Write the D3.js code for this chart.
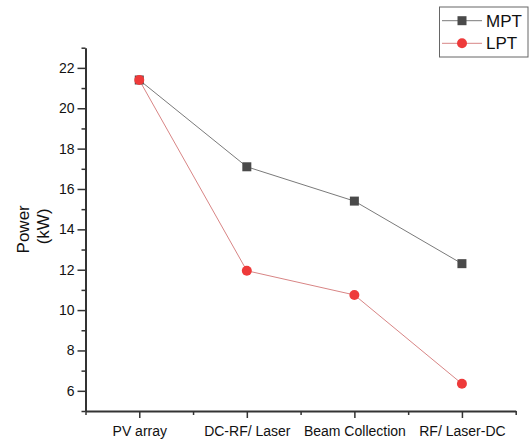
<!DOCTYPE html>
<html>
<head>
<meta charset="utf-8">
<script src="https://cdn.jsdelivr.net/npm/d3@7"></script>
<style>
  body { margin: 0; background: #fff; }
  svg { display: block; font-family: "Liberation Sans", Arial, sans-serif; }
</style>
</head>
<body>
<div id="chart"></div>
<script>
// Power at each conversion stage
const stages = ["PV array", "DC-RF/ Laser", "Beam Collection", "RF/ Laser-DC"];
const mptValues = [21.4, 17.1, 15.4, 12.3];
const lptValues = [21.4, 11.95, 10.75, 6.35];
const yTicks = [6, 8, 10, 12, 14, 16, 18, 20, 22];

const W = 529, H = 441;
const plot = { left: 85.5, right: 515.7, top: 47.7, bottom: 411 };

const svg = d3.select("#chart").append("svg")
    .attr("width", W)
    .attr("height", H);

const x = d3.scaleLinear().domain([0.5, stages.length + 0.5]).range([plot.left, plot.right]);
const y = d3.scaleLinear().domain([5, 23]).range([plot.bottom, plot.top]);

const axisColor = "#333";

// Y axis with major + minor ticks
const yAxis = svg.append("g")
    .attr("transform", `translate(${plot.left},0)`)
    .call(d3.axisLeft(y).tickValues(yTicks).tickSize(8).tickPadding(3).tickSizeOuter(0));
svg.append("g")
    .attr("transform", `translate(${plot.left},0)`)
    .call(d3.axisLeft(y).tickValues(d3.range(5, 24, 2)).tickSize(4).tickFormat("").tickSizeOuter(0))
    .select(".domain").remove();

// X axis
const xAxis = svg.append("g")
    .attr("transform", `translate(0,${plot.bottom})`)
    .call(d3.axisBottom(x).tickValues(d3.range(1, stages.length + 1))
        .tickFormat(i => stages[i - 1]).tickSize(7).tickPadding(8).tickSizeOuter(0));
svg.append("g")
    .attr("transform", `translate(0,${plot.bottom})`)
    .call(d3.axisBottom(x).tickValues([0.5, 1.5, 2.5, 3.5, 4.5]).tickSize(4).tickFormat("").tickSizeOuter(0))
    .select(".domain").remove();

svg.selectAll(".domain").attr("stroke", axisColor).attr("stroke-width", 2);
svg.selectAll(".tick line").attr("stroke", axisColor).attr("stroke-width", 1.5);
svg.selectAll(".tick text")
    .attr("fill", "#111")
    .style("font-size", "14px")
    .style("font-family", "'Liberation Sans', Arial, sans-serif");

// Y axis title (two lines)
const yMid = (plot.top + plot.bottom) / 2;
svg.append("text")
    .attr("transform", `translate(29,${yMid}) rotate(-90)`)
    .attr("text-anchor", "middle")
    .style("font-size", "17px")
    .attr("fill", "#111")
    .text("Power");
svg.append("text")
    .attr("transform", `translate(49,${yMid - 3}) rotate(-90)`)
    .attr("text-anchor", "middle")
    .style("font-size", "17px")
    .attr("fill", "#111")
    .text("(kW)");

// Series
const series = [
    { name: "MPT", values: mptValues, line: "#7a7a7a", mark: "#4a4a4a", shape: "square" },
    { name: "LPT", values: lptValues, line: "#d88585", mark: "#ee3a3a", shape: "circle" }
];

const line = d3.line()
    .x((d, i) => x(i + 1))
    .y(d => y(d));

function drawMarker(g, shape, color, cx, cy) {
    if (shape === "square") {
        g.append("rect")
            .attr("x", cx - 4.5).attr("y", cy - 4.5)
            .attr("width", 9).attr("height", 9)
            .attr("fill", color);
    } else {
        g.append("circle")
            .attr("cx", cx).attr("cy", cy).attr("r", 5)
            .attr("fill", color);
    }
}

series.forEach(s => {
    svg.append("path")
        .datum(s.values)
        .attr("d", line)
        .attr("fill", "none")
        .attr("stroke", s.line)
        .attr("stroke-width", 1);
});
series.forEach(s => {
    const g = svg.append("g");
    s.values.forEach((v, i) => drawMarker(g, s.shape, s.mark, x(i + 1), y(v)));
});

// Legend
const legend = svg.append("g");
legend.append("rect")
    .attr("x", 439.5).attr("y", 7)
    .attr("width", 88.5).attr("height", 50)
    .attr("fill", "#fff")
    .attr("stroke", "#666")
    .attr("stroke-width", 1);
series.forEach((s, i) => {
    const ly = 20.7 + i * 22.6;
    legend.append("line")
        .attr("x1", 442).attr("x2", 482)
        .attr("y1", ly).attr("y2", ly)
        .attr("stroke", s.line).attr("stroke-width", 1);
    drawMarker(legend, s.shape, s.mark, 462, ly);
    legend.append("text")
        .attr("x", 486).attr("y", ly)
        .attr("dy", "0.36em")
        .style("font-size", "17px")
        .attr("fill", "#111")
        .text(s.name);
});
</script>
</body>
</html>
